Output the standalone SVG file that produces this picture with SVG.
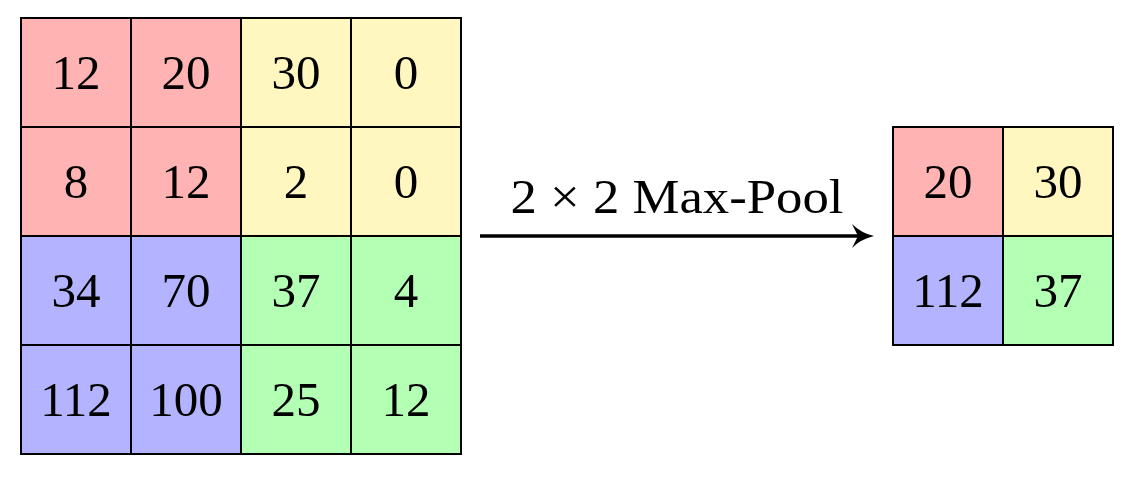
<svg xmlns="http://www.w3.org/2000/svg" width="1135" height="480" viewBox="0 0 1135 480">
<style>
rect.c{stroke:#000;stroke-width:2}
.r{fill:#FFB3B3}.y{fill:#FFF7BF}.b{fill:#B3B3FF}.g{fill:#B3FFB3}
text{font-family:"Liberation Serif","DejaVu Serif",serif;font-size:49px;fill:#000;text-anchor:middle}
</style>
<defs>
<marker id="ah" viewBox="0 0 22 24" refX="10" refY="12" markerWidth="22" markerHeight="24" markerUnits="userSpaceOnUse" orient="auto">
<path d="M0,0 Q9,9 22,12 Q9,15 0,24 L6,12 Z" fill="#000"/>
</marker>
</defs>
<rect width="1135" height="480" fill="#fff"/>
<g id="input-grid">
<rect class="c r" x="21" y="18" width="110" height="109"/>
<rect class="c r" x="131" y="18" width="110" height="109"/>
<rect class="c y" x="241" y="18" width="110" height="109"/>
<rect class="c y" x="351" y="18" width="110" height="109"/>
<rect class="c r" x="21" y="127" width="110" height="109"/>
<rect class="c r" x="131" y="127" width="110" height="109"/>
<rect class="c y" x="241" y="127" width="110" height="109"/>
<rect class="c y" x="351" y="127" width="110" height="109"/>
<rect class="c b" x="21" y="236" width="110" height="109"/>
<rect class="c b" x="131" y="236" width="110" height="109"/>
<rect class="c g" x="241" y="236" width="110" height="109"/>
<rect class="c g" x="351" y="236" width="110" height="109"/>
<rect class="c b" x="21" y="345" width="110" height="109"/>
<rect class="c b" x="131" y="345" width="110" height="109"/>
<rect class="c g" x="241" y="345" width="110" height="109"/>
<rect class="c g" x="351" y="345" width="110" height="109"/>
<text x="76" y="89">12</text><text x="186" y="89">20</text><text x="296" y="89">30</text><text x="406" y="89">0</text>
<text x="76" y="198">8</text><text x="186" y="198">12</text><text x="296" y="198">2</text><text x="406" y="198">0</text>
<text x="76" y="307">34</text><text x="186" y="307">70</text><text x="296" y="307">37</text><text x="406" y="307">4</text>
<text x="76" y="416">112</text><text x="186" y="416">100</text><text x="296" y="416">25</text><text x="406" y="416">12</text>
</g>
<g id="output-grid">
<rect class="c r" x="893" y="127" width="110" height="109"/>
<rect class="c y" x="1003" y="127" width="110" height="109"/>
<rect class="c b" x="893" y="236" width="110" height="109"/>
<rect class="c g" x="1003" y="236" width="110" height="109"/>
<text x="948" y="198">20</text><text x="1058" y="198">30</text>
<text x="948" y="307">112</text><text x="1058" y="307">37</text>
</g>
<g id="connectors">
<line x1="480" y1="236" x2="862" y2="236" stroke="#000" stroke-width="3.5" marker-end="url(#ah)"/>
<text x="677" y="213" textLength="333" lengthAdjust="spacingAndGlyphs">2 × 2 Max-Pool</text>
</g>
</svg>
